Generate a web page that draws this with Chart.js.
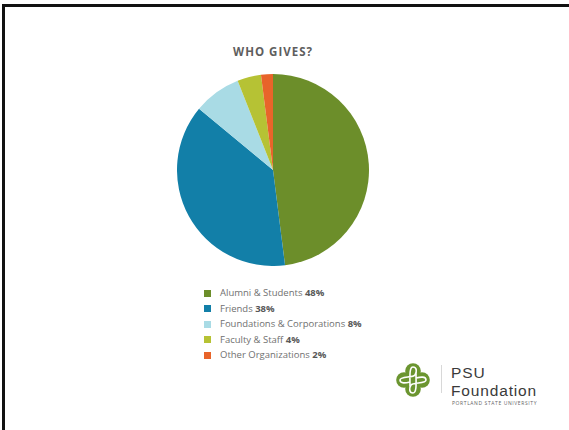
<!DOCTYPE html>
<html>
<head>
<meta charset="utf-8">
<title>Who Gives?</title>
<script src="https://cdn.jsdelivr.net/npm/chart.js@4.4.0/dist/chart.umd.min.js"></script>
<style>
  html, body { margin: 0; padding: 0; background: #fff; }
  body { width: 569px; height: 430px; position: relative; overflow: hidden; font-family: "Open Sans", "Noto Sans", sans-serif; }
  .rule-top { position: absolute; left: 2px; top: 4px; width: 567px; height: 3px; background: #111; }
  .rule-left { position: absolute; left: 2px; top: 4px; width: 3px; height: 426px; background: #111; }
  h1 { position: absolute; left: 0; width: 546px; top: 44px; margin: 0; text-align: center;
       font-size: 11.5px; font-weight: 700; letter-spacing: 1px; color: #5e5e5e; }
  #pieBox { position: absolute; left: 177px; top: 74px; width: 192px; height: 192px; }
  #legend { position: absolute; left: 204px; top: 285px; list-style: none; margin: 0; padding: 0; }
  #legend li { height: 15.5px; line-height: 15.5px; font-size: 9.5px; color: #707070; white-space: nowrap; }
  #legend li span.box { display: inline-block; width: 7px; height: 7px; margin-right: 9px; vertical-align: -0.5px; }
  #legend li b { color: #585858; font-weight: 700; }
  .logo { position: absolute; left: 395px; top: 362px; }
  .divider { position: absolute; left: 441px; top: 365px; width: 1px; height: 28px; background: #d8d8d8; }
  .psu { position: absolute; left: 451px; top: 364px; font-family: "Liberation Sans", Arial, sans-serif;
         font-size: 15.5px; line-height: 18px; letter-spacing: 0.85px; color: #3a3a3a; }
  .univ { position: absolute; left: 452px; top: 400px; font-size: 5px; letter-spacing: 0.6px; color: #666; }
</style>
</head>
<body>
<div class="rule-top"></div>
<div class="rule-left"></div>

<h1>WHO GIVES?</h1>
<div id="pieBox"><canvas id="givingChart"></canvas></div>
<ul id="legend"></ul>

<svg class="logo" width="36" height="36" viewBox="-18 -18 36 36">
  <g fill="#6b9530">
    <circle cx="0" cy="-9" r="7.8"/>
    <circle cx="0" cy="9" r="7.8"/>
    <circle cx="-9" cy="0" r="7.8"/>
    <circle cx="9" cy="0" r="7.8"/>
    <rect x="-6" y="-6" width="12" height="12"/>
  </g>
  <g fill="none" stroke="#fff" stroke-width="1.6" stroke-linecap="round">
    <path d="M-3,6 C-3,-2 -4,-13 0,-13 C4,-13 4,-8 2,-5 C0,-2 -13,-4 -13,0 C-13,4 -7,3 -3,2"/>
    <path d="M3,-6 C3,2 4,13 0,13 C-4,13 -4,8 -2,5 C0,2 13,4 13,0 C13,-4 7,-3 3,-2"/>
  </g>
</svg>
<div class="divider"></div>
<div class="psu">PSU<br>Foundation</div>
<div class="univ">PORTLAND STATE UNIVERSITY</div>

<script>
// quién dona: porcentaje de donantes por grupo
const grupos = ['Alumni & Students', 'Friends', 'Foundations & Corporations', 'Faculty & Staff', 'Other Organizations'];
const porcentajes = [48, 38, 8, 4, 2];
const colores = ['#6c8e2a', '#127fa8', '#a9dbe5', '#b6c234', '#e8642a'];

// leyenda en HTML, con el porcentaje en negrita
const legend = document.getElementById('legend');
grupos.forEach((g, i) => {
  const li = document.createElement('li');
  li.innerHTML = '<span class="box" style="background:' + colores[i] + '"></span>' +
    g + ' <b>' + porcentajes[i] + '%</b>';
  legend.appendChild(li);
});

const ctx = document.getElementById('givingChart').getContext('2d');
new Chart(ctx, {
  type: 'pie',
  data: {
    labels: grupos,
    datasets: [{
      data: porcentajes,
      backgroundColor: colores,
      borderWidth: 0
    }]
  },
  options: {
    responsive: true,
    maintainAspectRatio: false,
    animation: false,
    layout: { padding: 0 },
    plugins: {
      legend: { display: false },
      tooltip: { enabled: false }
    }
  }
});
</script>
</body>
</html>
